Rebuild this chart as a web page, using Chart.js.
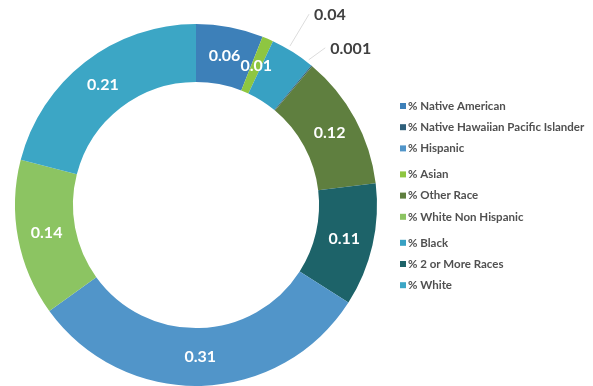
<!DOCTYPE html>
<html lang="en">
  <head>
    <meta charset="UTF-8" />
    <title>Population by Race</title>
    <script src="https://cdn.jsdelivr.net/npm/chart.js@4/dist/chart.umd.min.js"></script>
    <style>
      body {
        margin: 0;
        background: #fff;
      }
      #wrap {
        width: 593px;
        height: 386px;
        position: relative;
      }
    </style>
  </head>
  <body>
    <div id="wrap">
      <canvas id="raceChart"></canvas>
    </div>

    <script>
      // slices in the order they go round the ring, clockwise from the top
      const categories = [
        "% Native American",
        "% Asian",
        "% Black",
        "% Native Hawaiian Pacific Islander",
        "% Other Race",
        "% 2 or More Races",
        "% Hispanic",
        "% White Non Hispanic",
        "% White",
      ];
      const shares = [0.06, 0.01, 0.04, 0.001, 0.12, 0.11, 0.31, 0.14, 0.21];
      const valueLabels = ["0.06", "0.01", "0.04", "0.001", "0.12", "0.11", "0.31", "0.14", "0.21"];
      const sliceColors = [
        "#3d80b9",
        "#8ec641",
        "#38a1c3",
        "#2f5f7a",
        "#5f7f3f",
        "#1d6369",
        "#5195c9",
        "#8cc462",
        "#3ca6c5",
      ];
      // legend reads column by column
      const legendOrder = [0, 3, 6, 1, 4, 7, 2, 5, 8];

      // small slices get their value written outside with a leader line
      const outside = {
        2: { dx: 37, dy: -37 },
        3: { dx: 39, dy: -17 },
      };

      const valueLabelPlugin = {
        id: "valueLabels",
        afterDatasetsDraw(chart) {
          const ctx = chart.ctx;
          const meta = chart.getDatasetMeta(0);
          ctx.save();
          ctx.font = "bold 16px Lato, sans-serif";
          ctx.textAlign = "center";
          ctx.textBaseline = "middle";
          meta.data.forEach(function (arc, i) {
            const text = valueLabels[i];
            if (outside[i]) {
              const mid = (arc.startAngle + arc.endAngle) / 2;
              const ox = arc.x + Math.cos(mid) * arc.outerRadius;
              const oy = arc.y + Math.sin(mid) * arc.outerRadius;
              const lx = ox + outside[i].dx;
              const ly = oy + outside[i].dy;
              const half = ctx.measureText(text).width / 2;
              ctx.strokeStyle = "#dcdcdc";
              ctx.lineWidth = 1;
              ctx.beginPath();
              ctx.moveTo(ox - 3, oy - 6);
              ctx.lineTo(lx - half - 5, ly - 1);
              ctx.stroke();
              ctx.fillStyle = "#404040";
              ctx.fillText(text, lx, ly);
            } else {
              const p = arc.tooltipPosition();
              ctx.fillStyle = "#ffffff";
              ctx.fillText(text, p.x, p.y);
            }
          });
          ctx.restore();
        },
      };

      const sideLegendPlugin = {
        id: "sideLegend",
        afterDraw(chart) {
          const ctx = chart.ctx;
          const x = 400;
          let y = 106;
          ctx.save();
          ctx.font = "bold 11.5px Lato, sans-serif";
          ctx.textBaseline = "middle";
          ctx.textAlign = "left";
          legendOrder.forEach(function (idx, n) {
            if (n > 0) y += n % 3 === 0 ? 26 : 21.2;
            ctx.fillStyle = sliceColors[idx];
            ctx.fillRect(x, y - 3, 6, 6);
            ctx.fillStyle = "#505050";
            ctx.fillText(categories[idx], x + 8, y);
          });
          ctx.restore();
        },
      };

      new Chart(document.getElementById("raceChart"), {
        type: "doughnut",
        data: {
          labels: categories,
          datasets: [
            {
              data: shares,
              backgroundColor: sliceColors,
              borderWidth: 0,
            },
          ],
        },
        options: {
          responsive: true,
          maintainAspectRatio: false,
          animation: false,
          cutout: "68%",
          layout: {
            padding: { left: 14, right: 215, top: 24, bottom: 0 },
          },
          plugins: {
            legend: { display: false },
            tooltip: { enabled: false },
          },
        },
        plugins: [valueLabelPlugin, sideLegendPlugin],
      });
    </script>
  </body>
</html>
